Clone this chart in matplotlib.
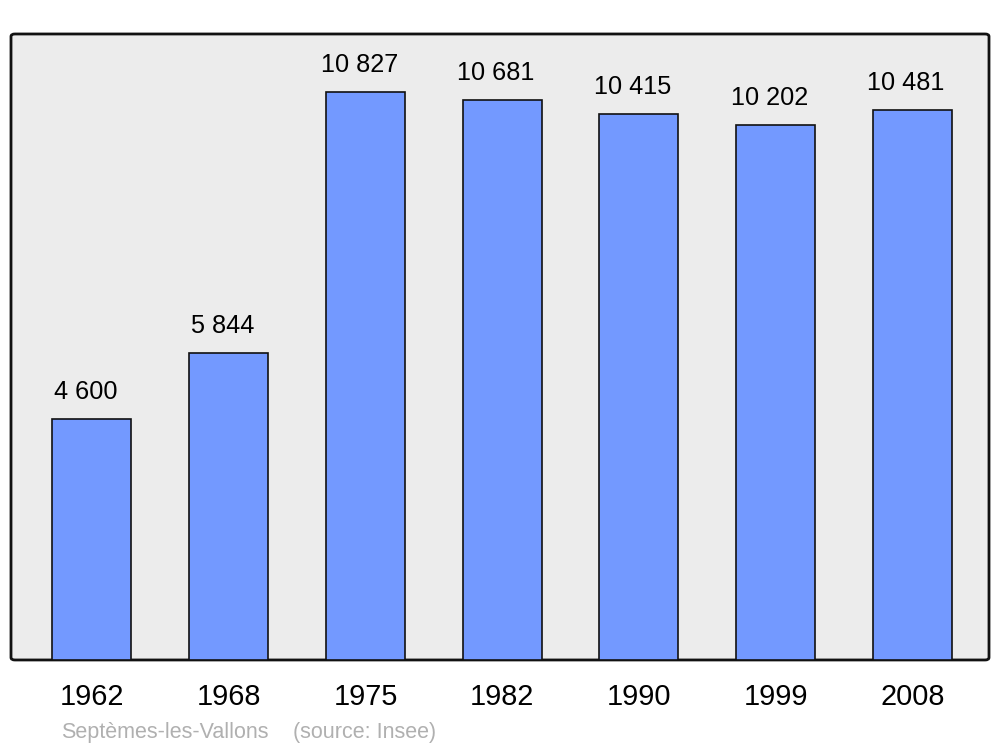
import matplotlib
matplotlib.use("Agg")
import matplotlib.pyplot as plt
from matplotlib.patches import FancyBboxPatch

plt.rcParams["font.family"] = ["Liberation Sans", "DejaVu Sans"]

years = ["1962", "1968", "1975", "1982", "1990", "1999", "2008"]
population = [4600, 5844, 10827, 10681, 10415, 10202, 10481]
place = "Septèmes-les-Vallons"
source = "(source: Insee)"


def fmt(v):
    return f"{v:,}".replace(",", " ")


fig = plt.figure(figsize=(10, 7.47), dpi=100)
ax = fig.add_axes([0.011, 0.1165, 0.978, 0.838])
ax.set_facecolor("none")
for s in ax.spines.values():
    s.set_visible(False)

# rounded grey frame
frame = FancyBboxPatch((0, 0), 1, 1, boxstyle="round,pad=0,rounding_size=0.004",
                       transform=ax.transAxes, facecolor="#ececec",
                       edgecolor="#111111", linewidth=2.0, zorder=0, clip_on=False)
ax.add_patch(frame)

x = list(range(len(years)))
bars = ax.bar(x, population, width=0.578, color="#7399ff",
              edgecolor="#111111", linewidth=1.2, zorder=2)
for b, v in zip(bars, population):
    ax.annotate(fmt(v), (b.get_x() + b.get_width() / 2, v),
                xytext=(-4.5, 19.5), textcoords="offset points",
                ha="center", va="center", fontsize=18.2)

ax.set_xlim(-0.592, 6.56)
ax.set_ylim(0, 11933)
ax.set_yticks([])
ax.set_xticks(x)
ax.set_xticklabels(years, fontsize=20.8)
ax.tick_params(axis="x", length=0, pad=16.5)

fig.text(0.061, 0.019, place, color="#b0b0b0", fontsize=15.5, ha="left", va="center")
fig.text(0.293, 0.019, source, color="#b0b0b0", fontsize=15.5, ha="left", va="center")

fig.savefig("out.png", dpi=100)
